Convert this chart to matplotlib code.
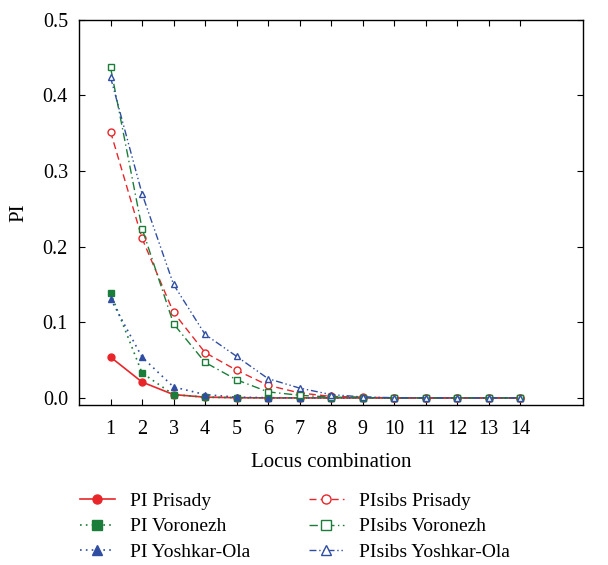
import numpy as np
import matplotlib.pyplot as plt

plt.rcParams['font.family'] = ['Liberation Serif', 'DejaVu Serif']
plt.rcParams['axes.linewidth'] = 1.0

loci = np.arange(1, 15)

pi_prisady = [0.054, 0.021, 0.0044, 0.001, 0.0003, 0, 0, 0, 0, 0, 0, 0, 0, 0]
pi_voronezh = [0.139, 0.033, 0.0044, 0.001, 0.0003, 0, 0, 0, 0, 0, 0, 0, 0, 0]
pi_yoshkar = [0.131, 0.054, 0.0145, 0.0044, 0.001, 0.0003, 0, 0, 0, 0, 0, 0, 0, 0]
pisibs_prisady = [0.352, 0.211, 0.113, 0.060, 0.0366, 0.0167, 0.0066, 0.002, 0.001, 0, 0, 0, 0, 0]
pisibs_voronezh = [0.437, 0.224, 0.098, 0.047, 0.024, 0.008, 0.0035, 0.001, 0.0005, 0, 0, 0, 0, 0]
pisibs_yoshkar = [0.424, 0.270, 0.150, 0.084, 0.055, 0.0255, 0.013, 0.0044, 0.0013, 0.0003, 0, 0, 0, 0]

red = '#e8262a'
green = '#1b7d3a'
blue = '#2f4ea2'

fig = plt.figure(figsize=(6.08, 5.65), dpi=100)
ax = fig.add_axes([0.130, 0.283, 0.829, 0.682])

ax.plot(loci, pi_prisady, color=red, linestyle='-', linewidth=1.2,
        marker='o', markersize=5, label='PI Prisady')
ax.plot(loci, pi_voronezh, color=green, linestyle=(0, (1, 2.5)), linewidth=1.2,
        marker='s', markersize=5, label='PI Voronezh')
ax.plot(loci, pi_yoshkar, color=blue, linestyle=(0, (1, 2.5)), linewidth=1.2,
        marker='^', markersize=5, label='PI Yoshkar-Ola')
ax.plot(loci, pisibs_prisady, color=red, linestyle=(0, (5, 3)), linewidth=1.0,
        marker='o', markersize=5, markerfacecolor='white', label='PIsibs Prisady')
ax.plot(loci, pisibs_voronezh, color=green, linestyle=(0, (6, 2.5, 1, 2.5)), linewidth=1.0,
        marker='s', markersize=5, markerfacecolor='white', label='PIsibs Voronezh')
ax.plot(loci, pisibs_yoshkar, color=blue, linestyle=(0, (5, 2, 1, 2, 1, 2)), linewidth=1.0,
        marker='^', markersize=5, markerfacecolor='white', label='PIsibs Yoshkar-Ola')

ax.set_xlim(0, 16)
ax.set_ylim(-0.0095, 0.5)
ax.set_xticks(loci)
ax.set_yticks([0.0, 0.1, 0.2, 0.3, 0.4, 0.5])
ax.set_yticklabels(['0.0', '0.1', '0.2', '0.3', '0.4', '0.5'])
ax.tick_params(direction='in', top=True, right=True, labelsize=14.5, length=4)
ax.tick_params(axis='x', pad=11)
ax.tick_params(axis='y', pad=8)

ax.set_xlabel('Locus combination', fontsize=15, labelpad=10)
ax.set_ylabel('PI', fontsize=15, labelpad=10)

# legend below the plot, two columns
handles, labels = ax.get_legend_handles_labels()
fig.legend(handles, labels, loc='upper left', bbox_to_anchor=(0.118, 0.143),
           ncol=2, frameon=False, fontsize=14, handlelength=1.8, markerscale=1.3,
           columnspacing=3.0, labelspacing=0.42, borderaxespad=0, handletextpad=0.8)

plt.savefig('out.png', dpi=100)
